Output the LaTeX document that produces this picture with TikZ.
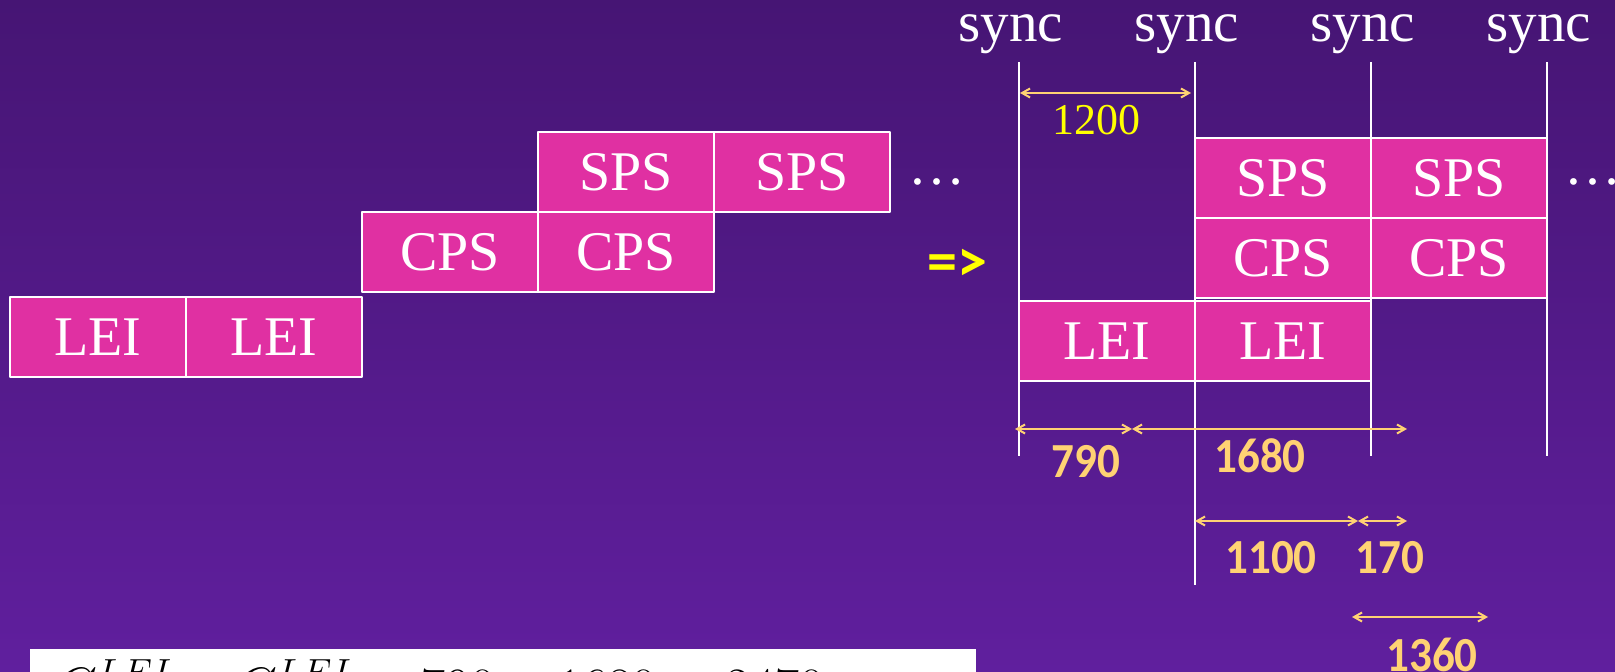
\documentclass[tikz,border=0pt]{standalone}
\usepackage{fix-cm}
\usepackage{fontspec}
\setmainfont{Liberation Serif}
\newfontfamily\numfont[FakeStretch=0.92]{Carlito}
\newfontfamily\symfont{Carlito}
\usetikzlibrary{positioning,arrows.meta}
\definecolor{bgtop}{RGB}{70,21,116}
\definecolor{bgbot}{RGB}{96,31,158}
\definecolor{boxpink}{RGB}{224,48,162}
\definecolor{dimorange}{RGB}{255,210,115}
\definecolor{hiyellow}{RGB}{255,255,0}
\begin{document}
\begin{tikzpicture}[x=0.5pt,y=-0.5pt, line join=round, >={Straight Barb[length=4pt,width=4.5pt]},
	blk/.style={draw=white, line width=1pt, fill=boxpink, text=white, minimum width=88pt, minimum height=40pt, inner sep=0pt, outer sep=0pt, font=\fontsize{28}{30}\selectfont},
	txt/.style={text=white, inner sep=0pt, font=\fontsize{28.5}{30}\selectfont},
	numlbl/.style={text=dimorange, inner sep=0pt, font=\numfont\bfseries\fontsize{24.5}{26}\selectfont},
	dim/.style={draw=dimorange, line width=1pt},
	syncline/.style={draw=white, line width=1pt}] %Lich dong bo
	\useasboundingbox (0,0) rectangle (1615,672);
	\shade[top color=bgtop, bottom color=bgbot] (0,0) rectangle (1615,672);
	% ben trai: chua dong bo
	\node[blk] (lei1) at (98,337) {LEI};
	\node[blk, right=0pt of lei1] (lei2) {LEI};
	\node[blk, anchor=south west] (cps1) at ([yshift=2.5pt]lei2.north east) {CPS};
	\node[blk, right=0pt of cps1] (cps2) {CPS};
	\node[blk, above=0pt of cps2] (sps1) {SPS};
	\node[blk, right=0pt of sps1] (sps2) {SPS};
	\node[txt] (dotsl) at (937,182) {\dots};
	\node[text=hiyellow, inner sep=0pt, font=\symfont\bfseries\fontsize{30}{32}\selectfont] (impl) at (957,265) {=>};
	% ben phai: cac moc sync
	\foreach \i/\x/\b in {1/1019/456, 2/1195/585, 3/1371/456, 4/1547/456}{
		\coordinate (top\i) at (\x,62);
		\coordinate (bot\i) at (\x,\b);
		\node[txt, anchor=base] (sync\i) at (\x-8,42) {sync};
		\draw[syncline] (top\i) -- (bot\i);
	}
	\node[blk] (lei3) at (1107,341) {LEI};
	\node[blk, right=0pt of lei3] (lei4) {LEI};
	\node[blk, above=1.5pt of lei4] (cps3) {CPS};
	\node[blk, right=0pt of cps3] (cps4) {CPS};
	\node[blk, above=0pt of cps3] (sps3) {SPS};
	\node[blk, right=0pt of sps3] (sps4) {SPS};
	\node[txt] (dotsr) at (1593,182) {\dots};
	% cac khoang thoi gian
	\coordinate (d1200a) at (1020,93);
	\coordinate (d1200b) at (1191,93);
	\coordinate (d790a) at (1015,429);
	\coordinate (d790b) at (1132,429);
	\coordinate (d1680b) at (1407,429);
	\coordinate (d1100a) at (1195,521);
	\coordinate (d1100b) at (1358,521);
	\coordinate (d170b) at (1407,521);
	\coordinate (d1360a) at (1352,617);
	\coordinate (d1360b) at (1488,617);
	\draw[dim,<->] (d1200a) -- (d1200b);
	\draw[dim,<->] (d790a) -- (d790b);
	\draw[dim,<->] (d790b) -- (d1680b);
	\draw[dim,<->] (d1100a) -- (d1100b);
	\draw[dim,<->] (d1100b) -- (d170b);
	\draw[dim,<->] (d1360a) -- (d1360b);
	\node[text=hiyellow, inner sep=0pt, font=\fontsize{22}{24}\selectfont] (n1200) at (1096,120) {1200};
	\node[numlbl] (n790) at (1086,462) {790};
	\node[numlbl] (n1680) at (1260,456) {1680};
	\node[numlbl] (n1100) at (1271,558) {1100};
	\node[numlbl] (n170) at (1390,558) {170};
	\node[numlbl] (n1360) at (1432,655) {1360};
	% cong thuc (bi cat o duoi)
	\fill[white] (30,649) rectangle (976,720);
	\node[anchor=base west, text=black, inner sep=0pt, font=\fontsize{27}{29}\selectfont] (sumeq) at (55,705) {$C^{LEI}+C^{LEI}=790+1680=2470$};
\end{tikzpicture}
\end{document}
